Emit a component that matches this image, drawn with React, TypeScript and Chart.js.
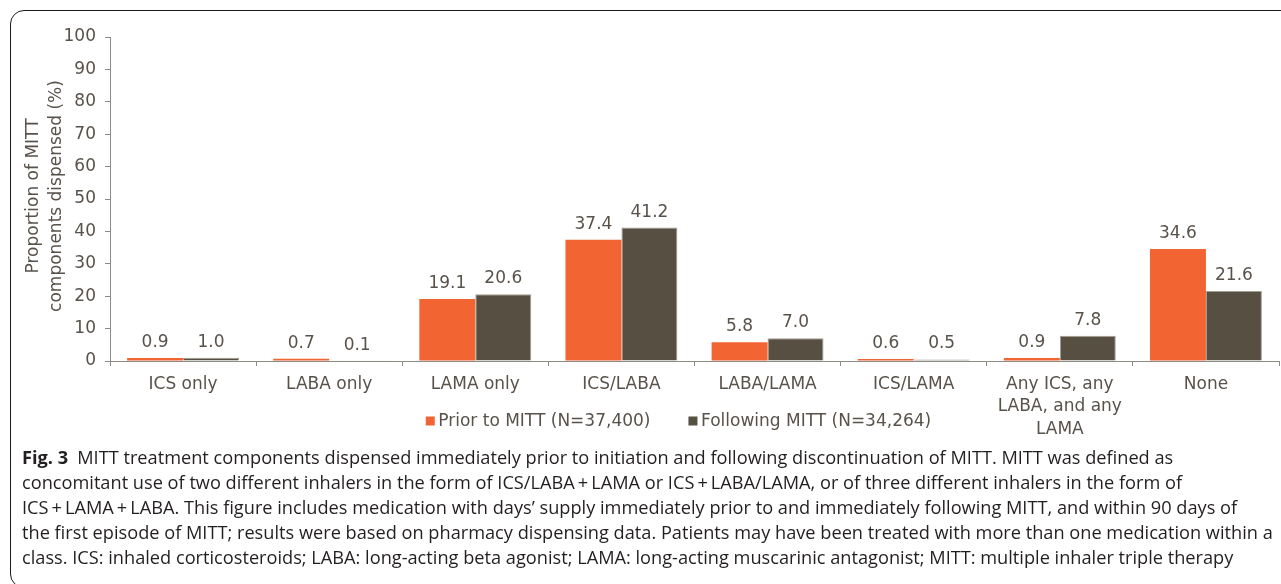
import React, { useEffect, useRef } from "react";
import { Chart, registerables } from "chart.js";

Chart.register(...registerables);

const categories: (string | string[])[] = [
  "ICS only",
  "LABA only",
  "LAMA only",
  "ICS/LABA",
  "LABA/LAMA",
  "ICS/LAMA",
  ["Any ICS, any", "LABA, and any", "LAMA"],
  "None",
];
const priorValues = [0.9, 0.7, 19.1, 37.4, 5.8, 0.6, 0.9, 34.6];
const followingValues = [1.0, 0.1, 20.6, 41.2, 7.0, 0.5, 7.8, 21.6];
const seriesNames = ["Prior to MITT (N=37,400)", "Following MITT (N=34,264)"];
const yMin = 0;
const yMax = 100;
const yStep = 10;
const yTitleLines = ["Proportion of MITT", "components dispensed (%)"];

const captionLines = [
  "MITT treatment components dispensed immediately prior to initiation and following discontinuation of MITT. MITT was defined as",
  "concomitant use of two different inhalers in the form of ICS/LABA\u2009+\u2009LAMA or ICS\u2009+\u2009LABA/LAMA, or of three different inhalers in the form of",
  "ICS\u2009+\u2009LAMA\u2009+\u2009LABA. This figure includes medication with days\u2019 supply immediately prior to and immediately following MITT, and within 90 days of",
  "the first episode of MITT; results were based on pharmacy dispensing data. Patients may have been treated with more than one medication within a",
  "class. ICS: inhaled corticosteroids; LABA: long-acting beta agonist; LAMA: long-acting muscarinic antagonist; MITT: multiple inhaler triple therapy",
];

const ORANGE = "#F26533";
const DARK = "#574F42";
const TEXT = "#58524A";
const AXIS = "#8E8B85";
const FONT_FAMILY = "'DejaVu Sans', sans-serif";
const FONT_SIZE = 17;

const valueLabelPlugin = {
  id: "valueLabels",
  afterDatasetsDraw(chart: any) {
    const ctx = chart.ctx;
    ctx.save();
    ctx.font = `${FONT_SIZE}px ${FONT_FAMILY}`;
    ctx.fillStyle = TEXT;
    ctx.textAlign = "center";
    ctx.textBaseline = "alphabetic";
    chart.data.datasets.forEach((ds: any, i: number) => {
      const meta = chart.getDatasetMeta(i);
      meta.data.forEach((bar: any, j: number) => {
        ctx.fillText(Number(ds.data[j]).toFixed(1), bar.x, bar.y - 11);
      });
    });
    ctx.restore();
  },
};

const customLegendPlugin = {
  id: "customLegend",
  afterDraw(chart: any) {
    const ctx = chart.ctx;
    const area = chart.chartArea;
    ctx.save();
    ctx.font = `${FONT_SIZE}px ${FONT_FAMILY}`;
    ctx.textBaseline = "middle";
    ctx.textAlign = "left";
    const box = 9;
    const boxGap = 3.5;
    const itemGap = 38;
    const items = chart.data.datasets.map((ds: any) => ({
      label: ds.label as string,
      color: ds.backgroundColor as string,
      w: ctx.measureText(ds.label).width,
    }));
    const total =
      items.reduce((s: number, it: any) => s + box + boxGap + it.w, 0) +
      itemGap * (items.length - 1);
    const center = (area.left + area.right) / 2 - 16;
    let x = center - total / 2;
    const y = 421;
    items.forEach((it: any) => {
      ctx.fillStyle = it.color;
      ctx.fillRect(x, y - box / 2, box, box);
      ctx.fillStyle = TEXT;
      ctx.fillText(it.label, x + box + boxGap, y + 1);
      x += box + boxGap + it.w + itemGap;
    });
    ctx.restore();
  },
};

const yTitlePlugin = {
  id: "yTitle",
  afterDraw(chart: any) {
    const ctx = chart.ctx;
    const area = chart.chartArea;
    const yc = (area.top + area.bottom) / 2 - 3;
    const xs = [33.5, 56.5];
    ctx.save();
    ctx.font = `${FONT_SIZE}px ${FONT_FAMILY}`;
    ctx.fillStyle = TEXT;
    ctx.textAlign = "center";
    ctx.textBaseline = "middle";
    yTitleLines.forEach((line, i) => {
      ctx.save();
      ctx.translate(xs[i], yc);
      ctx.rotate(-Math.PI / 2);
      ctx.fillText(line, 0, 0);
      ctx.restore();
    });
    ctx.restore();
  },
};

function BarChart() {
  const ref = useRef<HTMLCanvasElement | null>(null);
  useEffect(() => {
    if (!ref.current) return;
    const chart = new Chart(ref.current, {
      type: "bar",
      data: {
        labels: categories as any,
        datasets: [
          {
            label: seriesNames[0],
            data: priorValues,
            backgroundColor: ORANGE,
            borderWidth: 0,
            categoryPercentage: 0.766,
            barPercentage: 1,
          },
          {
            label: seriesNames[1],
            data: followingValues,
            backgroundColor: DARK,
            borderColor: "#A39E94",
            borderWidth: 1,
            categoryPercentage: 0.766,
            barPercentage: 1,
          },
        ],
      },
      options: {
        responsive: false,
        animation: false,
        devicePixelRatio: 1,
        layout: { padding: { top: 37, right: 2, bottom: 0, left: 0 } },
        plugins: {
          legend: { display: false },
          tooltip: { enabled: false },
          title: { display: false },
        },
        scales: {
          x: {
            offset: true,
            grid: {
              display: true,
              drawOnChartArea: false,
              drawTicks: true,
              tickLength: 5,
              color: AXIS,
              offset: true,
            },
            border: { display: true, color: AXIS, width: 1 },
            ticks: {
              color: TEXT,
              font: { family: FONT_FAMILY, size: FONT_SIZE, lineHeight: 1.32 },
              padding: 7,
              maxRotation: 0,
              minRotation: 0,
              autoSkip: false,
            },
            afterFit: (s: any) => {
              s.height = 89;
            },
          },
          y: {
            min: yMin,
            max: yMax,
            grid: {
              display: true,
              drawOnChartArea: false,
              drawTicks: true,
              tickLength: 5,
              color: AXIS,
            },
            border: { display: true, color: AXIS, width: 1 },
            ticks: {
              stepSize: yStep,
              color: TEXT,
              font: { family: FONT_FAMILY, size: FONT_SIZE },
              padding: 9,
            },
            afterFit: (s: any) => {
              s.width = 110;
            },
          },
        },
      },
      plugins: [valueLabelPlugin, customLegendPlugin, yTitlePlugin],
    });
    return () => chart.destroy();
  }, []);
  return (
    <canvas
      ref={ref}
      width={1281}
      height={450}
      style={{ position: "absolute", left: 0, top: 0, width: 1281, height: 450 }}
    />
  );
}

export default function App() {
  return (
    <div
      style={{
        position: "fixed",
        left: 0,
        top: 0,
        width: 1281,
        height: 584,
        overflow: "hidden",
        background: "#ffffff",
      }}
    >
      <div
        style={{
          position: "absolute",
          left: 10,
          top: 10,
          width: 1320,
          height: 578,
          border: "1.5px solid #1a1a1a",
          borderRadius: 14,
          boxSizing: "border-box",
        }}
      />
      <BarChart />
      <div
        style={{
          position: "absolute",
          left: 22,
          top: 445,
          fontFamily: "'Open Sans', sans-serif",
          fontSize: 18.2,
          lineHeight: "25px",
          color: "#231F20",
          whiteSpace: "nowrap",
        }}
      >
        {captionLines.map((line, i) => (
          <div key={i}>
            {i === 0 ? (
              <>
                <b style={{ fontWeight: 700 }}>Fig. 3</b>
                <span>{"\u2002"}</span>
              </>
            ) : null}
            {line}
          </div>
        ))}
      </div>
    </div>
  );
}
